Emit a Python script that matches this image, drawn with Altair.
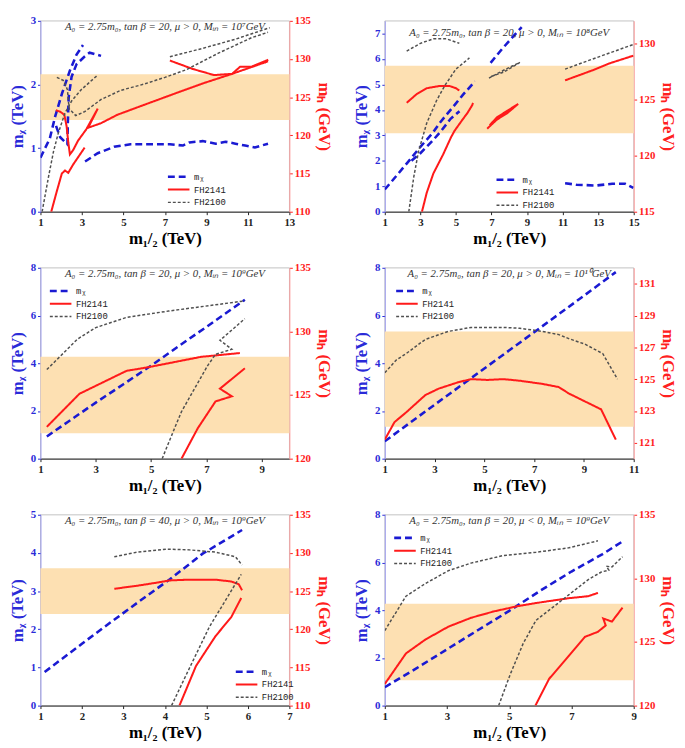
import altair as alt
import pandas as pd

SERIES = ["mᵪ", "FH2141", "FH2100"]
LINE_COLORS = ["#1a1ad2", "#ff1a1a", "#505050"]
LINE_DASHES = [[7, 4], [1, 0], [3, 2]]
LINE_WIDTHS = [2.6, 1.5, 0.9]
BAND = [122, 128]

# ---------------- Panel 1 : M_in = 10^7 GeV ----------------
p1_mchi = [
    [(1.0, 0.85), (1.45, 1.15), (1.71, 1.5), (2.05, 1.87), (2.42, 2.22), (2.74, 2.47), (3.05, 2.62)],
    [(1.75, 1.35), (1.95, 1.17), (2.3, 1.06), (2.32, 1.4), (2.36, 1.8), (2.5, 2.12), (2.74, 2.32),
     (3.13, 2.44), (3.37, 2.5), (3.6, 2.48), (3.92, 2.45)],
    [(3.15, 0.79), (3.76, 0.92), (4.55, 1.02), (5.34, 1.06), (6.45, 1.06), (7.24, 1.06), (7.87, 1.04),
     (8.18, 1.09), (8.82, 1.11), (9.45, 1.07), (9.92, 1.1), (10.4, 1.07), (10.87, 1.04), (11.34, 1.01),
     (11.97, 1.07)],
]
p1_fh2141 = [
    [(1.52, 110.0), (1.79, 112.7), (2.03, 115.0), (2.18, 115.4), (2.34, 115.1), (2.58, 116.2), (3.13, 118.4)],
    [(1.74, 123.3), (1.95, 123.1), (2.15, 122.7), (2.26, 121.2), (2.34, 119.1), (2.42, 117.5), (2.58, 118.1),
     (2.81, 119.3), (3.21, 120.8), (3.76, 123.5), (3.3, 121.0), (3.92, 121.6), (4.71, 122.7), (5.5, 123.5),
     (6.45, 124.45), (7.6, 125.6), (8.82, 126.8), (10.24, 128.06), (11.97, 129.7)],
    [(7.24, 129.8), (8.34, 128.7), (9.37, 127.9), (10.24, 128.06), (10.63, 129.0), (11.18, 129.0),
     (11.97, 129.9), (11.8, 129.5)],
]
p1_fh2100 = [
    [(1.08, 110.0), (1.39, 114.6), (1.63, 117.9), (1.87, 120.4), (2.18, 122.9), (2.5, 124.5), (2.97, 126.0),
     (3.76, 127.9)],
    [(1.79, 127.6), (2.1, 127.2), (2.3, 126.0), (2.38, 123.5), (2.7, 122.6), (3.13, 123.1), (3.92, 124.7),
     (4.87, 125.9), (5.97, 126.7), (7.0, 127.6), (8.03, 128.6), (9.6, 130.8), (11.18, 132.8), (11.97, 133.5)],
    [(7.24, 130.3), (8.82, 131.4), (10.4, 132.6), (12.05, 134.1)],
]

# ---------------- Panel 2 : M_in = 10^8 GeV ----------------
p2_mchi = [
    [(1.0, 0.875), (1.7, 1.45), (2.3, 1.95), (3.0, 2.55), (3.7, 3.1), (4.1, 3.5), (4.7, 4.0), (5.4, 4.6),
     (6.07, 5.12)],
    [(2.5, 2.0), (3.0, 2.3), (3.7, 2.8), (4.2, 3.2), (4.7, 3.65), (5.2, 3.95)],
    [(6.95, 5.85), (7.6, 6.4), (8.3, 6.95), (8.7, 7.25)],
    [(11.14, 1.12), (11.78, 1.06), (12.88, 1.03), (13.79, 1.1), (14.52, 1.1), (14.98, 0.94)],
]
p2_fh2141 = [
    [(2.23, 124.7), (2.81, 125.5), (3.36, 126.0), (4.09, 126.2), (4.64, 126.2), (5.0, 126.0), (5.19, 125.8)],
    [(3.09, 115.0), (3.36, 116.7), (3.73, 118.4), (4.28, 120.1), (4.73, 121.65), (4.92, 122.2), (5.37, 123.2),
     (5.65, 123.8), (5.92, 124.5), (5.96, 124.7)],
    [(6.76, 122.4), (7.3, 123.2), (7.9, 123.8), (8.5, 124.6), (7.9, 124.0), (7.3, 123.4), (6.9, 122.7)],
    [(11.14, 126.7), (12.69, 127.6), (13.61, 128.2), (14.98, 128.9)],
]
p2_fh2100 = [
    [(2.23, 129.3), (3.0, 130.0), (3.73, 130.4), (4.46, 130.4), (5.0, 130.1), (5.19, 130.0)],
    [(2.35, 115.0), (2.63, 118.1), (2.9, 120.4), (3.36, 122.9), (3.91, 124.9), (4.4, 126.3), (5.0, 127.7),
     (5.76, 128.7)],
    [(6.86, 126.9), (7.68, 127.6), (8.6, 128.3), (7.7, 127.45), (6.9, 127.0)],
    [(11.14, 127.7), (12.69, 128.6), (14.98, 129.9)],
]

# ---------------- Panel 3 : M_in = 10^9 GeV ----------------
p3_mchi = [
    [(1.23, 0.93), (2.0, 1.55), (3.0, 2.35), (4.0, 3.12), (5.0, 3.9), (6.0, 4.72), (7.0, 5.52), (8.39, 6.66)],
]
p3_fh2141 = [
    [(1.23, 122.5), (2.41, 125.1), (4.11, 126.9), (4.93, 127.2), (6.8, 128.0), (8.21, 128.3)],
    [(6.1, 120.0), (6.69, 122.4), (7.33, 124.5), (7.92, 124.9), (7.49, 125.5), (8.39, 127.1)],
]
p3_fh2100 = [
    [(1.23, 127.0), (2.34, 129.4), (3.0, 130.3), (4.11, 131.1), (5.63, 131.6), (8.39, 132.4)],
    [(5.4, 120.0), (5.87, 122.5), (6.1, 123.7), (6.57, 125.5), (7.04, 127.3), (7.33, 128.2), (7.92, 128.6),
     (7.49, 129.3), (8.39, 131.0)],
]

# ---------------- Panel 4 : M_in = 10^10 GeV ----------------
p4_mchi = [
    [(1.0, 0.73), (3.0, 2.26), (5.0, 3.78), (7.0, 5.3), (9.0, 6.83), (10.28, 7.82)],
]
p4_fh2141 = [
    [(1.0, 121.2), (1.39, 122.3), (1.85, 122.9), (2.63, 124.0), (3.16, 124.4), (3.94, 124.8), (4.46, 125.0),
     (5.12, 124.95), (5.77, 125.0), (6.42, 124.9), (7.34, 124.7), (7.99, 124.5), (8.39, 124.1), (8.91, 123.7),
     (9.69, 123.1), (10.28, 121.2)],
]
p4_fh2100 = [
    [(1.0, 125.4), (1.46, 126.2), (1.85, 126.6), (2.63, 127.5), (3.55, 128.0), (4.46, 128.25), (5.77, 128.25),
     (6.42, 128.2), (7.34, 128.0), (7.99, 127.8), (8.39, 127.55), (9.04, 127.2), (9.76, 126.6), (10.35, 125.0)],
]

# ---------------- Panel 5 : tan beta = 40 ----------------
p5_mchi = [
    [(1.1, 0.88), (2.0, 1.62), (2.54, 2.06), (3.33, 2.69), (4.12, 3.31), (4.91, 3.98), (5.86, 4.6)],
]
p5_fh2141 = [
    [(2.78, 125.3), (3.33, 125.7), (3.8, 126.1), (4.12, 126.4), (4.6, 126.5), (5.22, 126.5), (5.6, 126.25),
     (5.78, 125.9), (5.86, 125.1)],
    [(4.35, 110.0), (4.75, 115.2), (5.22, 119.1), (5.6, 121.6), (5.84, 124.1)],
]
p5_fh2100 = [
    [(2.78, 129.5), (3.33, 130.1), (4.04, 130.5), (4.59, 130.4), (5.22, 130.1), (5.7, 129.5), (5.86, 128.4)],
    [(4.16, 110.0), (4.59, 114.9), (5.07, 120.3), (5.54, 124.5), (5.84, 127.2)],
]

# ---------------- Panel 6 : mu < 0 ----------------
p6_mchi = [
    [(1.0, 0.77), (2.0, 1.55), (3.0, 2.36), (4.0, 3.17), (5.0, 3.97), (6.0, 4.82), (7.0, 5.62), (8.0, 6.35),
     (8.64, 6.88)],
]
p6_fh2141 = [
    [(1.0, 121.7), (1.68, 124.1), (2.31, 125.2), (3.04, 126.2), (3.77, 126.9), (4.5, 127.4), (5.24, 127.8),
     (5.86, 128.06), (6.91, 128.44), (7.54, 128.6), (7.85, 128.86)],
    [(5.84, 120.0), (6.28, 122.1), (6.91, 123.9), (7.43, 125.4), (7.85, 125.8), (8.1, 126.3), (8.02, 126.85),
     (8.3, 126.6), (8.64, 127.7)],
]
p6_fh2100 = [
    [(1.0, 125.9), (1.68, 128.6), (2.31, 129.6), (3.04, 130.6), (3.77, 131.2), (4.82, 131.8), (5.86, 132.05),
     (6.91, 132.4), (7.85, 132.95)],
    [(4.66, 120.0), (5.03, 122.45), (5.45, 124.9), (5.86, 126.7), (6.49, 127.9), (6.91, 128.7), (7.54, 129.9),
     (7.96, 130.5), (8.2, 130.65), (8.12, 130.95), (8.3, 130.9), (8.64, 131.7)],
]

# axis settings per panel
X_DOMAINS = [[1, 13], [1, 15], [1, 10], [1, 11], [1, 7], [1, 9]]
X_TICKS = [[1, 3, 5, 7, 9, 11, 13], [1, 3, 5, 7, 9, 11, 13, 15], [1, 3, 5, 7, 9], [1, 3, 5, 7, 9, 11],
           [1, 2, 3, 4, 5, 6, 7], [1, 3, 5, 7, 9]]
L_DOMAINS = [[0, 3], [0, 7.5], [0, 8], [0, 8], [0, 5], [0, 8]]
L_TICKS = [[0, 1, 2, 3], [0, 1, 2, 3, 4, 5, 6, 7], [0, 2, 4, 6, 8], [0, 2, 4, 6, 8], [0, 1, 2, 3, 4, 5],
           [0, 2, 4, 6, 8]]
R_DOMAINS = [[110, 135], [115, 132], [120, 135], [120, 132], [110, 135], [120, 135]]
R_TICKS = [[110, 115, 120, 125, 130, 135], [115, 120, 125, 130], [120, 125, 130, 135],
           [121, 123, 125, 127, 129, 131], [110, 115, 120, 125, 130, 135], [120, 125, 130, 135]]
TITLES = [
    "A₀ = 2.75m₀, tan β = 20, μ > 0, Mᵢₙ = 10⁷GeV",
    "A₀ = 2.75m₀, tan β = 20, μ > 0, Mᵢₙ = 10⁸GeV",
    "A₀ = 2.75m₀, tan β = 20, μ > 0, Mᵢₙ = 10⁹GeV",
    "A₀ = 2.75m₀, tan β = 20, μ > 0, Mᵢₙ = 10¹⁰GeV",
    "A₀ = 2.75m₀, tan β = 40, μ > 0, Mᵢₙ = 10⁹GeV",
    "A₀ = 2.75m₀, tan β = 20, μ < 0, Mᵢₙ = 10⁹GeV",
]
LEGEND_POS = [(128, 152), (112, 155), (8, 17), (10, 17), (197, 153), (8, 17)]
PANEL_DATA = [
    (p1_mchi, p1_fh2141, p1_fh2100), (p2_mchi, p2_fh2141, p2_fh2100), (p3_mchi, p3_fh2141, p3_fh2100),
    (p4_mchi, p4_fh2141, p4_fh2100), (p5_mchi, p5_fh2141, p5_fh2100), (p6_mchi, p6_fh2141, p6_fh2100),
]

W, H = 253, 194
BLUE_AX = "#2a2ad8"
BLUE_DOM = "#9a9af0"
RED_AX = "#ff2020"
RED_DOM = "#ff9a9a"
SERIF = "Liberation Serif"


def frame(segments, series, tag):
    rows = []
    for s, seg in enumerate(segments):
        for i, (x, y) in enumerate(seg):
            rows.append({"x": x, "y": y, "seg": f"{tag}-{series}-{s}", "i": i, "series": series})
    return pd.DataFrame(rows)


def panel(k):
    mchi, fh41, fh00 = PANEL_DATA[k]
    df_left = frame(mchi, SERIES[0], k)
    df_right = pd.concat([frame(fh41, SERIES[1], k), frame(fh00, SERIES[2], k)], ignore_index=True)
    band_df = pd.DataFrame({"x0": [X_DOMAINS[k][0]], "x1": [X_DOMAINS[k][1]],
                            "lo": [BAND[0]], "hi": [BAND[1]]})

    lx, ly = LEGEND_POS[k]
    leg = alt.Legend(title=None, orient="none", legendX=lx, legendY=ly, symbolType="stroke",
                     symbolSize=480, labelFont="Liberation Mono", labelFontSize=9, labelColor="#222",
                     clipHeight=13, rowPadding=0, padding=0, labelOffset=3)
    color = alt.Color("series:N", scale=alt.Scale(domain=SERIES, range=LINE_COLORS), legend=leg)
    dash = alt.StrokeDash("series:N", scale=alt.Scale(domain=SERIES, range=LINE_DASHES), legend=leg)
    width = alt.StrokeWidth("series:N", scale=alt.Scale(domain=SERIES, range=LINE_WIDTHS), legend=leg)

    xscale = alt.Scale(domain=X_DOMAINS[k], nice=False, zero=False)
    xaxis = alt.Axis(values=X_TICKS[k], title="m₁/₂ (TeV)", format="d", grid=False, tickSize=3,
                     labelColor="#222", domainColor="#222", tickColor="#222", labelPadding=2,
                     titlePadding=3, labelFlush=False)
    laxis = alt.Axis(orient="left", values=L_TICKS[k], title="mᵪ (TeV)", format="d", grid=False,
                     tickSize=3, labelColor=BLUE_AX, titleColor=BLUE_AX, domainColor=BLUE_DOM,
                     tickColor=BLUE_AX, labelPadding=2, titlePadding=4, labelFlush=False)
    raxis = alt.Axis(orient="right", values=R_TICKS[k], title="mₕ (GeV)", format="d", grid=False,
                     tickSize=3, labelColor=RED_AX, titleColor=RED_AX, domainColor=RED_DOM,
                     tickColor=RED_AX, labelPadding=2, titlePadding=4, labelFlush=False)

    band = alt.Chart(band_df).mark_rect(color="#fde0b2").encode(
        x=alt.X("x0:Q", scale=xscale, axis=xaxis),
        x2="x1:Q",
        y=alt.Y("lo:Q", scale=alt.Scale(domain=R_DOMAINS[k], nice=False, zero=False), axis=None),
        y2="hi:Q",
    )
    left = alt.Chart(df_left).mark_line(clip=True).encode(
        x=alt.X("x:Q", scale=xscale, axis=xaxis),
        y=alt.Y("y:Q", scale=alt.Scale(domain=L_DOMAINS[k], nice=False, zero=False), axis=laxis),
        color=color, strokeDash=dash, strokeWidth=width,
        detail="seg:N", order=alt.Order("i:Q"),
    )
    right = alt.Chart(df_right).mark_line(clip=True).encode(
        x=alt.X("x:Q", scale=xscale, axis=xaxis),
        y=alt.Y("y:Q", scale=alt.Scale(domain=R_DOMAINS[k], nice=False, zero=False), axis=raxis),
        color=color, strokeDash=dash, strokeWidth=width,
        detail="seg:N", order=alt.Order("i:Q"),
    )
    title = alt.TitleParams(TITLES[k], offset=-17, fontSize=11, font=SERIF, fontStyle="italic",
                            fontWeight="normal", color="#333", anchor="middle", frame="group")
    return alt.layer(band, left, right, title=title).resolve_scale(y="independent").properties(
        width=W, height=H)


IND = dict(color="independent", strokeDash="independent", strokeWidth="independent")


def row(a, b):
    return alt.hconcat(panel(a), panel(b), spacing=20).resolve_scale(**IND).resolve_legend(**IND)


chart = alt.vconcat(row(0, 1), row(2, 3), row(4, 5), spacing=14).resolve_scale(**IND).resolve_legend(
    **IND).properties(padding={"left": 0, "top": 0, "right": 0, "bottom": 0}, background="white")

chart = chart.configure_view(stroke="#999999", strokeWidth=0.6).configure_axis(
    labelFont=SERIF, labelFontWeight="bold", labelFontSize=11,
    titleFont=SERIF, titleFontWeight="bold", titleFontSize=17,
)

chart.save("out.html", embed_options={"renderer": "svg", "actions": False})
